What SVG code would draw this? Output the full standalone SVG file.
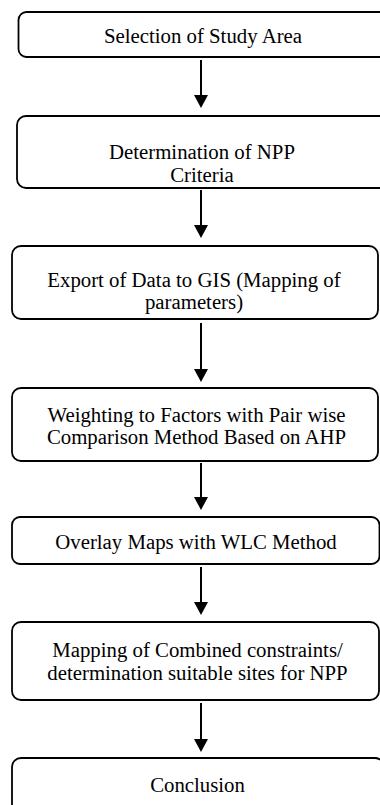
<svg xmlns="http://www.w3.org/2000/svg" width="380" height="805" viewBox="0 0 380 805">
<style>
.box{fill:#fff;stroke:#000;stroke-width:1.8}
.t{font-size:20.8px;fill:#000;text-anchor:middle}
.c{stroke:#000;stroke-width:2;fill:none}
</style>
<rect width="380" height="805" fill="#fff"/>
<g id="connectors">
<path class="c" d="M201,60 V95"/><polygon points="194,95 208,95 201,108"/>
<path class="c" d="M201,190 V225"/><polygon points="194,225 208,225 201,238"/>
<path class="c" d="M201,323 V369"/><polygon points="194,369 208,369 201,382"/>
<path class="c" d="M201,463 V497"/><polygon points="194,497 208,497 201,510"/>
<path class="c" d="M201,567 V602"/><polygon points="194,602 208,602 201,615"/>
<path class="c" d="M201,703 V739"/><polygon points="194,739 208,739 201,752"/>
</g>
<g font-family="'Liberation Serif', 'Times New Roman', 'DejaVu Serif', serif">
<g id="n1"><rect class="box" x="18.5" y="12" width="370" height="45" rx="8"/><text class="t" x="203" y="43">Selection of Study Area</text></g>
<g id="n2"><rect class="box" x="17" y="116" width="372" height="72" rx="9"/><text class="t" x="202" y="159">Determination of NPP</text><text class="t" x="202" y="181.5">Criteria</text></g>
<g id="n3"><rect class="box" x="12" y="246" width="366" height="73" rx="9"/><text class="t" x="194" y="287">Export of Data to GIS (Mapping of</text><text class="t" x="194" y="308.5">parameters)</text></g>
<g id="n4"><rect class="box" x="12" y="388" width="366" height="73" rx="9"/><text class="t" x="196.5" y="421.5">Weighting to Factors with Pair wise</text><text class="t" x="196.5" y="443.5">Comparison Method Based on AHP</text></g>
<g id="n5"><rect class="box" x="12" y="517" width="367.5" height="47" rx="8"/><text class="t" x="196" y="548.5">Overlay Maps with WLC Method</text></g>
<g id="n6"><rect class="box" x="12" y="622" width="367" height="78" rx="9"/><text class="t" x="197.5" y="656.5">Mapping of Combined constraints/</text><text class="t" x="197.5" y="680">determination suitable sites for NPP</text></g>
<g id="n7"><rect class="box" x="12" y="758" width="372" height="70" rx="9"/><text class="t" x="197.5" y="791.5">Conclusion</text></g>
</g>
</svg>
